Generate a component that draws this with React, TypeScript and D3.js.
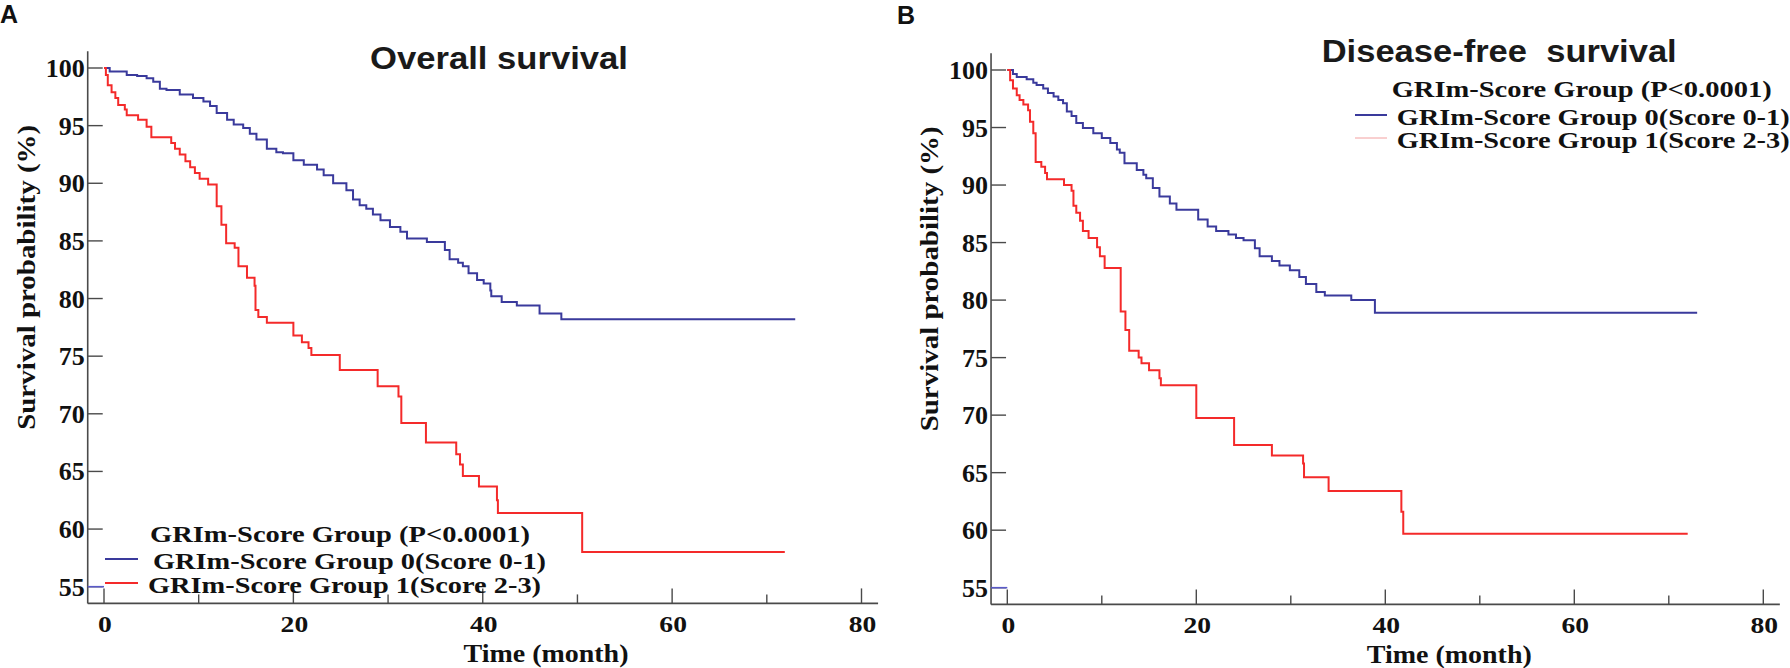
import { curveStepAfter, line, scaleLinear } from "d3";

type Pt = [number, number];

// Kaplan-Meier steps: [time (month), survival (%)]
const osGroup0: Pt[] = [
  [0, 100], [0.6, 99.7], [2.4, 99.4], [3.5, 99.3], [4.5, 99.1], [5.2, 98.8],
  [5.9, 98.2], [6.6, 98.1], [8.0, 97.7], [9.4, 97.4], [10.5, 97.1], [11.2, 96.7],
  [11.9, 96.1], [13.0, 95.5], [13.7, 95.1], [14.7, 94.8], [15.4, 94.3], [16.1, 93.8],
  [17.2, 93.0], [18.2, 92.7], [18.9, 92.6], [20.0, 92.0], [21.1, 91.6], [22.5, 91.2],
  [23.2, 90.7], [24.2, 90.0], [25.6, 89.4], [26.3, 88.6], [27.0, 88.1], [27.7, 87.8],
  [28.4, 87.3], [29.2, 86.8], [30.2, 86.2], [31.3, 85.8], [32.0, 85.2], [34.1, 84.9],
  [36.0, 84.2], [36.5, 83.4], [37.4, 83.1], [37.9, 82.8], [38.5, 82.2], [39.4, 81.6],
  [40.1, 81.3], [40.8, 80.7], [40.9, 80.2], [42.0, 79.7], [43.6, 79.4], [46.0, 78.7],
  [48.3, 78.2], [73.0, 78.2],
];

const osGroup1: Pt[] = [
  [0, 100], [0.2, 99.4], [0.4, 98.5], [0.8, 97.9], [1.2, 97.4], [1.5, 96.8],
  [2.2, 96.4], [2.4, 95.9], [3.6, 95.5], [4.5, 94.9], [5.0, 94.0], [7.1, 93.5],
  [7.5, 93.0], [8.0, 92.5], [8.6, 91.9], [9.1, 91.4], [9.6, 90.9], [10.1, 90.4],
  [11.0, 89.9], [11.9, 88.0], [12.4, 86.4], [12.9, 84.8], [13.8, 84.4], [14.2, 82.8],
  [15.1, 81.8], [15.9, 81.1], [16.0, 79.0], [16.3, 78.4], [17.2, 77.9], [20.0, 76.8],
  [20.9, 76.2], [21.6, 75.7], [21.9, 75.1], [24.9, 73.8], [28.9, 72.4], [31.1, 71.5],
  [31.4, 69.2], [34.0, 67.5], [37.2, 66.5], [37.6, 65.6], [37.9, 64.6], [39.6, 63.7],
  [41.5, 62.5], [41.6, 61.4], [50.5, 58.0], [71.9, 58.0],
];

const dfsGroup0: Pt[] = [
  [0, 100], [0.6, 99.65], [1.0, 99.4], [2.05, 99.2], [2.75, 98.9], [3.1, 98.7],
  [3.8, 98.4], [4.3, 98.0], [4.9, 97.7], [5.4, 97.4], [5.9, 97.1], [6.3, 96.4],
  [6.8, 96.0], [7.3, 95.4], [8.0, 94.95], [9.1, 94.5], [10.0, 94.1], [10.9, 93.65],
  [11.6, 93.1], [11.9, 92.8], [12.4, 91.9], [13.7, 91.3], [14.4, 90.9], [14.7, 90.6],
  [15.4, 89.75], [16.1, 89.0], [17.2, 88.4], [17.9, 87.85], [20.2, 87.0], [21.2, 86.4],
  [22.1, 86.0], [23.4, 85.7], [24.2, 85.4], [25.0, 85.2], [26.2, 84.5], [26.7, 83.8],
  [28.0, 83.4], [28.8, 83.0], [29.9, 82.6], [30.9, 82.0], [31.6, 81.4], [32.7, 80.7],
  [33.6, 80.4], [36.4, 80.0], [38.9, 78.9], [73.0, 78.9],
];

const dfsGroup1: Pt[] = [
  [0, 100], [0.3, 99.1], [0.6, 98.4], [1.0, 97.8], [1.3, 97.4], [1.7, 97.0],
  [2.2, 96.5], [2.4, 95.5], [2.75, 94.5], [3.0, 92.0], [3.6, 91.6], [4.0, 91.05],
  [4.2, 90.5], [6.0, 90.0], [6.8, 89.5], [7.0, 88.2], [7.3, 87.6], [7.7, 86.9],
  [8.0, 86.0], [8.6, 85.4], [9.5, 84.6], [9.8, 83.8], [10.3, 82.8], [12.0, 79.0],
  [12.5, 77.4], [12.9, 75.6], [13.9, 75.0], [14.2, 74.5], [15.0, 73.9], [16.1, 73.2],
  [16.25, 72.6], [20.0, 69.75], [24.0, 67.4], [28.0, 66.5], [31.3, 65.8], [31.4, 64.6],
  [34.0, 63.4], [41.7, 61.6], [41.9, 59.7], [72.0, 59.7],
];

const yTicks = [55, 60, 65, 70, 75, 80, 85, 90, 95, 100];
const xMajorTicks = [0, 20, 40, 60, 80];
const xMinorTicks = [10, 30, 50, 70];

const legendTitle = "GRIm-Score Group (P<0.0001)";
const legendLabels = ["GRIm-Score Group 0(Score 0-1)", "GRIm-Score Group 1(Score 2-3)"];

const BLUE = "#3a3a9c";
const RED = "#f42a2a";
const AXIS = "#4a4a4a";
const SERIF = "'Liberation Serif', 'Times New Roman', serif";
const SANS = "'Liberation Sans', Arial, sans-serif";

type Layout = {
  letter: string;
  letterX: number;
  letterY: number;
  title: string;
  titleX: number;
  titleY: number;
  titleLen: number;
  x0: number;
  x80: number;
  y55: number;
  y100: number;
  yLabelX: number;
  legend: {
    hx: number; hy: number;
    lx: [number, number]; ly: [number, number];
    sx: [number, number]; sy: [number, number];
    secondColor: string; secondWidth: number;
  };
};

const layouts: Layout[] = [
  {
    letter: "A", letterX: 0, letterY: 23,
    title: "Overall survival", titleX: 370, titleY: 69, titleLen: 258,
    x0: 104, x80: 861.5, y55: 586.7, y100: 68, yLabelX: 35,
    legend: {
      hx: 150, hy: 542,
      lx: [153, 148], ly: [569, 593],
      sx: [105, 138], sy: [559, 583],
      secondColor: RED, secondWidth: 2,
    },
  },
  {
    letter: "B", letterX: 897, letterY: 24,
    title: "Disease-free  survival", titleX: 1321.7, titleY: 62, titleLen: 355,
    x0: 1007.3, x80: 1763.3, y55: 587.7, y100: 70, yLabelX: 938,
    legend: {
      hx: 1391.7, hy: 96.5,
      lx: [1396.7, 1396.7], ly: [125, 148.3],
      sx: [1355, 1387], sy: [115, 138],
      secondColor: "#f3a0a0", secondWidth: 1,
    },
  },
];

function Panel({ p, series }: { p: Layout; series: [Pt[], Pt[]] }) {
  const x = scaleLinear().domain([0, 80]).range([p.x0, p.x80]);
  const y = scaleLinear().domain([55, 100]).range([p.y55, p.y100]);
  const axisY = y(53.55);
  const axisLeft = x(-1.72);
  const axisRight = x(81.75);
  const axisTop = y(101.45);
  const path = line<Pt>()
    .x((d) => x(d[0]))
    .y((d) => y(d[1]))
    .curve(curveStepAfter);
  const lg = p.legend;
  const midY = (axisTop + axisY) / 2 - 50;

  return (
    <g>
      <text x={p.letterX} y={p.letterY} fontFamily={SANS} fontWeight="bold" fontSize={25} fill="#111">
        {p.letter}
      </text>
      <text
        x={p.titleX}
        y={p.titleY}
        fontFamily={SANS}
        fontWeight="bold"
        fontSize={31}
        fill="#1a1a1a"
        textLength={p.titleLen}
        lengthAdjust="spacingAndGlyphs"
        style={{ whiteSpace: "pre" }}
      >
        {p.title}
      </text>

      {/* axes */}
      <line x1={axisLeft} x2={axisLeft} y1={axisTop} y2={axisY} stroke={AXIS} strokeWidth={1.6} />
      <line x1={axisLeft} x2={axisRight} y1={axisY} y2={axisY} stroke={AXIS} strokeWidth={1.6} />
      {yTicks.map((t) => (
        <g key={`y${t}`}>
          <line x1={axisLeft} x2={axisLeft + 15} y1={y(t)} y2={y(t)} stroke={AXIS} strokeWidth={1.4} />
          <text
            x={axisLeft - 3}
            y={y(t) + 9}
            textAnchor="end"
            fontFamily={SERIF}
            fontWeight="bold"
            fontSize={26}
            fill="#111"
          >
            {t}
          </text>
        </g>
      ))}
      {xMajorTicks.map((t) => (
        <g key={`x${t}`}>
          <line x1={x(t)} x2={x(t)} y1={axisY} y2={axisY - 15} stroke={AXIS} strokeWidth={1.4} />
          <text
            transform={`translate(${x(t) + 1},${axisY + 29}) scale(1.2,1)`}
            textAnchor="middle"
            fontFamily={SERIF}
            fontWeight="bold"
            fontSize={23}
            fill="#111"
          >
            {t}
          </text>
        </g>
      ))}
      {xMinorTicks.map((t) => (
        <line key={`m${t}`} x1={x(t)} x2={x(t)} y1={axisY} y2={axisY - 9} stroke={AXIS} strokeWidth={1.4} />
      ))}
      <text
        x={x(0) + 442}
        y={axisY + 58.5}
        textAnchor="middle"
        fontFamily={SERIF}
        fontWeight="bold"
        fontSize={25}
        fill="#111"
        textLength={165}
        lengthAdjust="spacingAndGlyphs"
      >
        Time (month)
      </text>
      <text
        transform={`translate(${p.yLabelX},${midY}) rotate(-90)`}
        textAnchor="middle"
        fontFamily={SERIF}
        fontWeight="bold"
        fontSize={25}
        fill="#111"
        textLength={305}
        lengthAdjust="spacingAndGlyphs"
      >
        Survival probability (%)
      </text>

      {/* small blue mark at 55 on the axis */}
      <line x1={axisLeft} x2={x(0)} y1={y(55)} y2={y(55)} stroke="#5a5ac8" strokeWidth={1.6} />

      {/* curves */}
      <path d={path(series[0]) ?? ""} fill="none" stroke={BLUE} strokeWidth={2} />
      <path d={path(series[1]) ?? ""} fill="none" stroke={RED} strokeWidth={2} />

      {/* legend */}
      <text
        x={lg.hx}
        y={lg.hy}
        fontFamily={SERIF}
        fontWeight="bold"
        fontSize={24}
        fill="#111"
        textLength={380}
        lengthAdjust="spacingAndGlyphs"
      >
        {legendTitle}
      </text>
      <line x1={lg.sx[0]} x2={lg.sx[1]} y1={lg.sy[0]} y2={lg.sy[0]} stroke={BLUE} strokeWidth={2} />
      <line x1={lg.sx[0]} x2={lg.sx[1]} y1={lg.sy[1]} y2={lg.sy[1]} stroke={lg.secondColor} strokeWidth={lg.secondWidth} />
      {legendLabels.map((label, i) => (
        <text
          key={label}
          x={lg.lx[i]}
          y={lg.ly[i]}
          fontFamily={SERIF}
          fontWeight="bold"
          fontSize={24}
          fill="#111"
          textLength={393}
          lengthAdjust="spacingAndGlyphs"
        >
          {label}
        </text>
      ))}
    </g>
  );
}

export default function App() {
  return (
    <div style={{ position: "absolute", left: 0, top: 0, background: "#fff" }}>
      <svg width={1790} height={668} viewBox="0 0 1790 668" style={{ display: "block" }}>
        <rect width={1790} height={668} fill="#fff" />
        <Panel p={layouts[0]} series={[osGroup0, osGroup1]} />
        <Panel p={layouts[1]} series={[dfsGroup0, dfsGroup1]} />
      </svg>
    </div>
  );
}
